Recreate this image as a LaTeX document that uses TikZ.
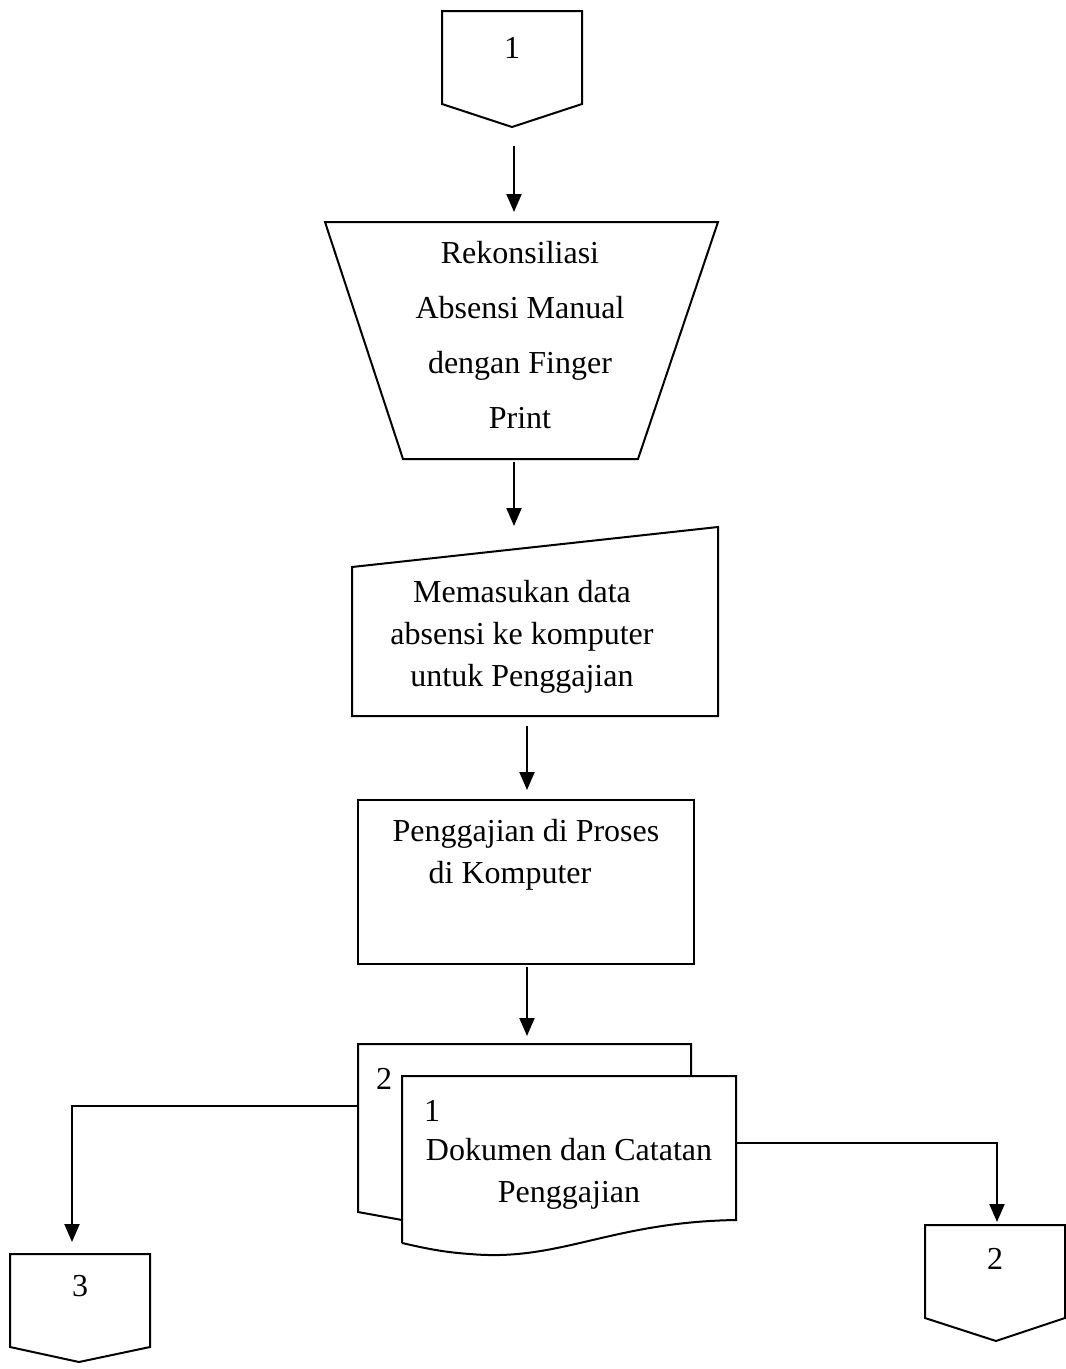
\documentclass[tikz,border=0pt]{standalone}
\usepackage{fontspec}
\setmainfont{Liberation Serif}
\usetikzlibrary{arrows.meta}
\begin{document}
\begin{tikzpicture}[x=1pt,y=-1pt,
  shape line/.style={draw=black,line width=2pt,line join=miter},
  flow/.style={draw=black,line width=2pt,-{Triangle[width=15pt,length=18pt]}},
  txt/.style={align=center,inner sep=0pt,font=\fontsize{32}{42}\selectfont},
  txtwide/.style={align=center,inner sep=0pt,font=\fontsize{32}{55}\selectfont}]
\useasboundingbox (0,0) rectangle (1066,1369);
% off-page connector 1
\draw[shape line] (442,11) -- (582,11) -- (582,104) -- (512,127) -- (442,104) -- cycle;
\node[txt] (t1) at (512,48) {1};
\coordinate (c1out) at (514,146);
% manual operation (trapezoid)
\draw[shape line] (325,222) -- (718,222) -- (638,459) -- (403,459) -- cycle;
\coordinate (trapin) at (514,212);
\coordinate (trapout) at (514,462);
\node[txtwide] (trap) at (520,335) {Rekonsiliasi\\Absensi Manual\\dengan Finger\\Print};
% manual input
\draw[shape line] (352,567) -- (718,527) -- (718,716) -- (352,716) -- cycle;
\coordinate (inpin) at (514,526);
\coordinate (inpout) at (527,726);
\node[txt] (inp) at (522,637) {Memasukan data\\absensi ke komputer\\untuk Penggajian};
% process rectangle
\draw[shape line] (358,800) rectangle (694,964);
\coordinate (procin) at (527,790);
\coordinate (procout) at (527,967);
\node[txt] (proc) at (526,855) {Penggajian di Proses\\di Komputer\phantom{xx}};
% back document 2
\draw[shape line] (402,1220) -- (358,1212) -- (358,1044) -- (691,1044) -- (691,1076);
\node[txt,anchor=west] (d2) at (376,1079) {2};
\coordinate (docin) at (527,1036);
\coordinate (docleft) at (358,1106);
% front document 1
\draw[shape line,fill=white] (402,1243) -- (402,1076) -- (736,1076) -- (736,1220)
   .. controls (610,1222) and (560,1262) .. (470,1254) .. controls (440,1252) and (420,1247) .. (402,1243);
\node[txt,anchor=west] (d1) at (424,1111) {1};
\node[txt] (doc) at (569,1174) {Dokumen dan Catatan\\Penggajian};
\coordinate (docright) at (736,1143);
% off-page connector 3
\draw[shape line] (10,1254) -- (150,1254) -- (150,1347) -- (79,1362) -- (10,1347) -- cycle;
\node[txt] (t3) at (80,1286) {3};
\coordinate (c3in) at (72,1242);
% off-page connector 2
\draw[shape line] (925,1225) -- (1065,1225) -- (1065,1318) -- (996,1341) -- (925,1318) -- cycle;
\node[txt] (t2) at (995,1259) {2};
\coordinate (c2in) at (997,1222);
% connectors
\draw[flow] (c1out) -- (trapin);
\draw[flow] (trapout) -- (inpin);
\draw[flow] (inpout) -- (procin);
\draw[flow] (procout) -- (docin);
\draw[flow] (docleft) -| (c3in);
\draw[flow] (docright) -| (c2in);
\end{tikzpicture}
\end{document}
